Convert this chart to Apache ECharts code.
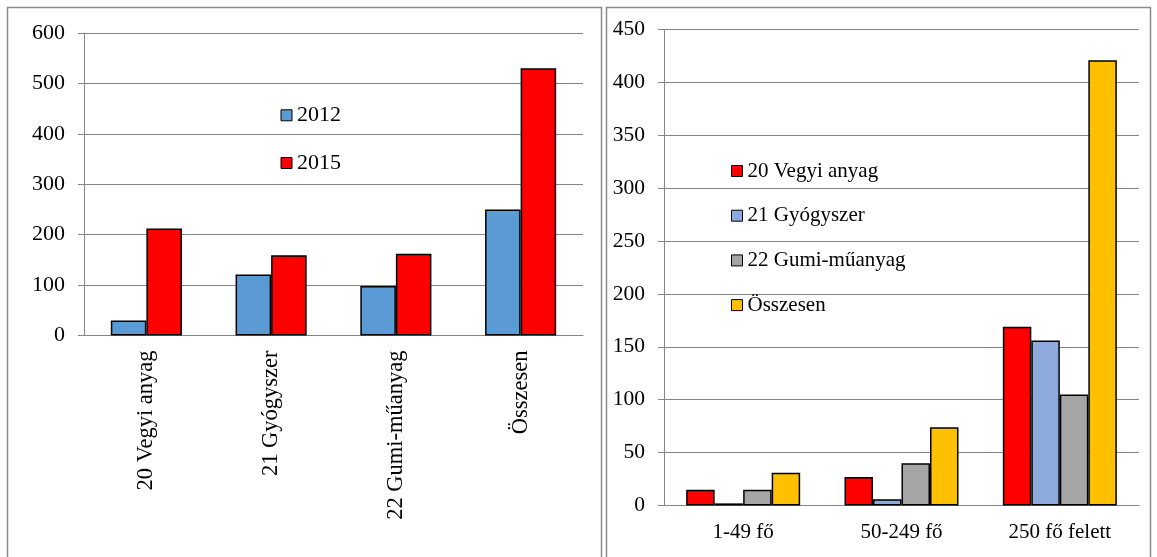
<!DOCTYPE html>
<html><head><meta charset="utf-8">
<script src="https://cdn.jsdelivr.net/npm/echarts@6/dist/echarts.min.js"></script>
<style>html,body{margin:0;padding:0;background:#fff}#c{width:1157px;height:557px}</style>
</head><body><div id="c"></div>
<script>
// Left chart
const leftCategories = ['20 Vegyi anyag', '21 Gyógyszer', '22 Gumi-műanyag', 'Összesen'];
const left2012 = [30, 121, 98, 250];
const left2015 = [212, 159, 162, 530];
const leftTicks = [0, 100, 200, 300, 400, 500, 600];
// Right chart
const rightCategories = ['1-49 fő', '50-249 fő', '250 fő felett'];
const rightVegyi = [15, 27, 169];
const rightGyogy = [2, 6, 156];
const rightGumi = [15, 40, 105];
const rightOssz = [31, 74, 421];
const rightTicks = [0, 50, 100, 150, 200, 250, 300, 350, 400, 450];

const FONT = '"Liberation Serif", "Times New Roman", serif';
const chart = echarts.init(document.getElementById('c'), null, {renderer: 'canvas'});
const axisGray = '#868686';
function yAxisCfg(gridIndex, ticks, fs) {
  return {
    type: 'value', gridIndex, min: ticks[0], max: ticks[ticks.length - 1],
    interval: ticks[1] - ticks[0],
    axisLine: {show: true, lineStyle: {color: axisGray, width: 1}},
    axisTick: {show: true, length: 6, lineStyle: {color: axisGray}},
    splitLine: {show: true, lineStyle: {color: axisGray, width: 1}},
    axisLabel: {color: '#000', fontFamily: FONT, fontSize: fs, margin: 19}
  };
}
function barSeries(name, data, color, xi) {
  return {
    name, type: 'bar', data, xAxisIndex: xi, yAxisIndex: xi,
    barGap: '0%', barCategoryGap: xi === 0 ? '43%' : '28%',
    itemStyle: {color, borderColor: '#000', borderWidth: 1.5},
    emphasis: {disabled: true}, animation: false
  };
}
chart.setOption({
  animation: false,
  graphic: [
    {type: 'rect', shape: {x: 7.5, y: 7.5, width: 594, height: 560}, style: {fill: null, stroke: '#8a8a8a', lineWidth: 1.5}},
    {type: 'rect', shape: {x: 606.5, y: 7.5, width: 544, height: 560}, style: {fill: null, stroke: '#8a8a8a', lineWidth: 1.5}}
  ],
  grid: [
    {left: 84, right: 574, top: 33, bottom: 221.5},
    {left: 664, right: 18, top: 29.5, bottom: 51.5}
  ],
  xAxis: [
    {type: 'category', gridIndex: 0, data: leftCategories,
     axisLine: {lineStyle: {color: axisGray}}, axisTick: {length: 7, lineStyle: {color: axisGray}},
     axisLabel: {rotate: 90, color: '#000', fontFamily: FONT, fontSize: 22.5, margin: 15}},
    {type: 'category', gridIndex: 1, data: rightCategories,
     axisLine: {lineStyle: {color: axisGray}}, axisTick: {length: 7, lineStyle: {color: axisGray}},
     axisLabel: {color: '#000', fontFamily: FONT, fontSize: 21, margin: 16}}
  ],
  yAxis: [yAxisCfg(0, leftTicks, 22), yAxisCfg(1, rightTicks, 21.5)],
  legend: [
    {data: ['2012', '2015'], orient: 'vertical', left: 280.5, top: 104.3, padding: 0,
     itemWidth: 11, itemHeight: 11, itemGap: 25.7, icon: 'rect',
     itemStyle: {borderColor: '#000', borderWidth: 1},
     textStyle: {color: '#000', fontFamily: FONT, fontSize: 22, lineHeight: 22}},
    {data: ['20 Vegyi anyag', '21 Gyógyszer', '22 Gumi-műanyag', 'Összesen'], orient: 'vertical',
     left: 731, top: 160.5, padding: 0, itemWidth: 11, itemHeight: 11, itemGap: 23.7, icon: 'rect',
     itemStyle: {borderColor: '#000', borderWidth: 1},
     textStyle: {color: '#000', fontFamily: FONT, fontSize: 21, lineHeight: 21}}
  ],
  series: [
    barSeries('2012', left2012, '#5B9BD5', 0),
    barSeries('2015', left2015, '#FF0000', 0),
    barSeries('20 Vegyi anyag', rightVegyi, '#FF0000', 1),
    barSeries('21 Gyógyszer', rightGyogy, '#8EA9DB', 1),
    barSeries('22 Gumi-műanyag', rightGumi, '#A5A5A5', 1),
    barSeries('Összesen', rightOssz, '#FFC000', 1)
  ]
});
</script></body></html>
